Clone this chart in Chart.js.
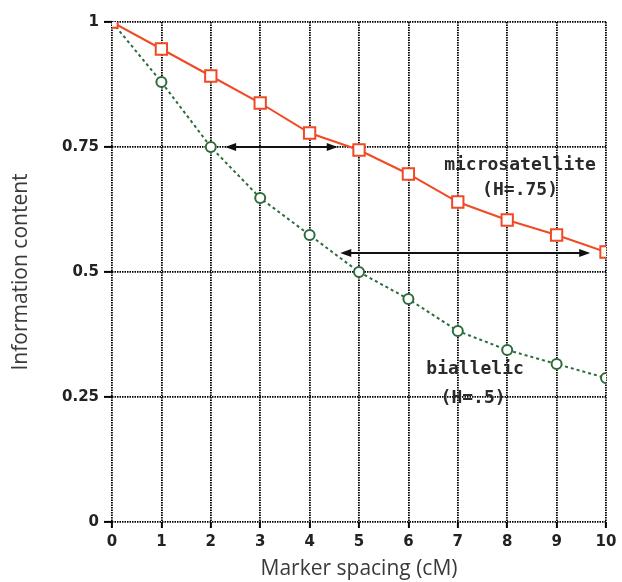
<!DOCTYPE html>
<html>
<head>
<meta charset="utf-8">
<script src="https://cdn.jsdelivr.net/npm/chart.js@4.4.1/dist/chart.umd.min.js"></script>
<style>
    html, body { margin: 0; padding: 0; background: #fff; }
    #wrap { width: 622px; height: 582px; position: relative; }
</style>
</head>
<body>
<div id="wrap"><canvas id="infoChart"></canvas></div>
<script>
// Marker spacing (cM)
const spacing = [0, 1, 2, 3, 4, 5, 6, 7, 8, 9, 10];
// Information content
const microsatellite = [1, 0.946, 0.892, 0.838, 0.778, 0.744, 0.696, 0.640, 0.604, 0.574, 0.540];
const biallelic = [1, 0.880, 0.750, 0.648, 0.574, 0.500, 0.446, 0.382, 0.344, 0.316, 0.288];

// double-headed arrows (data coords)
const arrowFrom = [2.29, 4.62];
const arrowTo = [4.57, 9.68];
const arrowAt = [0.75, 0.538];

// curve labels
const noteText = ['microsatellite', '(H=.75)', 'biallelic', '(H=.5)'];
const noteX = [8.26, 8.26, 7.35, 7.31];
const noteY = [0.714, 0.664, 0.306, 0.248];

const RED = '#ef4a25';
const GREEN = '#2d6b3c';
const INK = '#000';

const overlayPlugin = {
    id: 'overlay',
    afterDatasetsDraw(chart) {
        const { ctx, scales: { x, y } } = chart;
        ctx.save();
        ctx.strokeStyle = '#111';
        ctx.fillStyle = '#111';
        ctx.lineWidth = 2;
        arrowFrom.forEach((x0, i) => {
            const px1 = x.getPixelForValue(x0);
            const px2 = x.getPixelForValue(arrowTo[i]);
            const py = y.getPixelForValue(arrowAt[i]);
            ctx.beginPath();
            ctx.moveTo(px1 + 6, py);
            ctx.lineTo(px2 - 6, py);
            ctx.stroke();
            // heads
            ctx.beginPath();
            ctx.moveTo(px1, py);
            ctx.lineTo(px1 + 11, py - 4);
            ctx.lineTo(px1 + 11, py + 4);
            ctx.closePath();
            ctx.fill();
            ctx.beginPath();
            ctx.moveTo(px2, py);
            ctx.lineTo(px2 - 11, py - 4);
            ctx.lineTo(px2 - 11, py + 4);
            ctx.closePath();
            ctx.fill();
        });

        ctx.font = 'bold 18px "DejaVu Sans Mono", monospace';
        ctx.textAlign = 'center';
        ctx.textBaseline = 'middle';
        ctx.fillStyle = '#2a2a2a';
        noteText.forEach((t, i) => {
            ctx.fillText(t, x.getPixelForValue(noteX[i]), y.getPixelForValue(noteY[i]));
        });
        ctx.restore();
    }
};

const tickFont = { family: '"DejaVu Sans", sans-serif', size: 15, weight: 'bold' };
const titleFont = { family: '"Open Sans", sans-serif', size: 21 };
const fmt = v => String(Math.round(v * 100) / 100);

new Chart(document.getElementById('infoChart'), {
    type: 'line',
    data: {
        labels: spacing,
        datasets: [
            {
                label: 'microsatellite (H=.75)',
                data: spacing.map((s, i) => ({ x: s, y: microsatellite[i] })),
                borderColor: RED,
                borderWidth: 2,
                pointStyle: 'rect',
                pointRadius: 8,
                pointBorderWidth: 2,
                pointBackgroundColor: '#fff',
                pointBorderColor: RED,
                tension: 0
            },
            {
                label: 'biallelic (H=.5)',
                data: spacing.map((s, i) => ({ x: s, y: biallelic[i] })),
                borderColor: GREEN,
                borderWidth: 2,
                borderDash: [3, 3],
                pointStyle: 'circle',
                pointRadius: 5,
                pointBorderWidth: 2,
                pointBackgroundColor: '#fff',
                pointBorderColor: GREEN,
                tension: 0
            }
        ]
    },
    options: {
        responsive: true,
        maintainAspectRatio: false,
        animation: false,
        layout: { padding: { top: 22, right: 16, left: 8, bottom: 0 } },
        plugins: { legend: { display: false }, tooltip: { enabled: false } },
        scales: {
            x: {
                type: 'linear',
                min: 0,
                max: 10,
                ticks: { stepSize: 1, color: '#222', font: tickFont, padding: 5, callback: fmt },
                grid: { color: INK, lineWidth: 1.8, tickLength: 6, tickColor: INK, tickWidth: 2 },
                border: { display: false, dash: [1.5, 1] },
                title: { display: true, text: 'Marker spacing (cM)', color: '#3a3a3a', font: titleFont, padding: { top: 0, bottom: 0 } },
                afterFit(scale) { scale.height = 60; }
            },
            y: {
                min: 0,
                max: 1,
                ticks: { stepSize: 0.25, color: '#222', font: tickFont, padding: 5, callback: fmt },
                grid: { color: INK, lineWidth: 1.8, tickLength: 8, tickColor: INK, tickWidth: 2 },
                border: { display: false, dash: [1.5, 1] },
                title: { display: true, text: 'Information content', color: '#3a3a3a', font: titleFont, padding: { top: 0, bottom: 4 } },
                afterFit(scale) { scale.width = 104; }
            }
        }
    },
    plugins: [overlayPlugin]
});
</script>
</body>
</html>
